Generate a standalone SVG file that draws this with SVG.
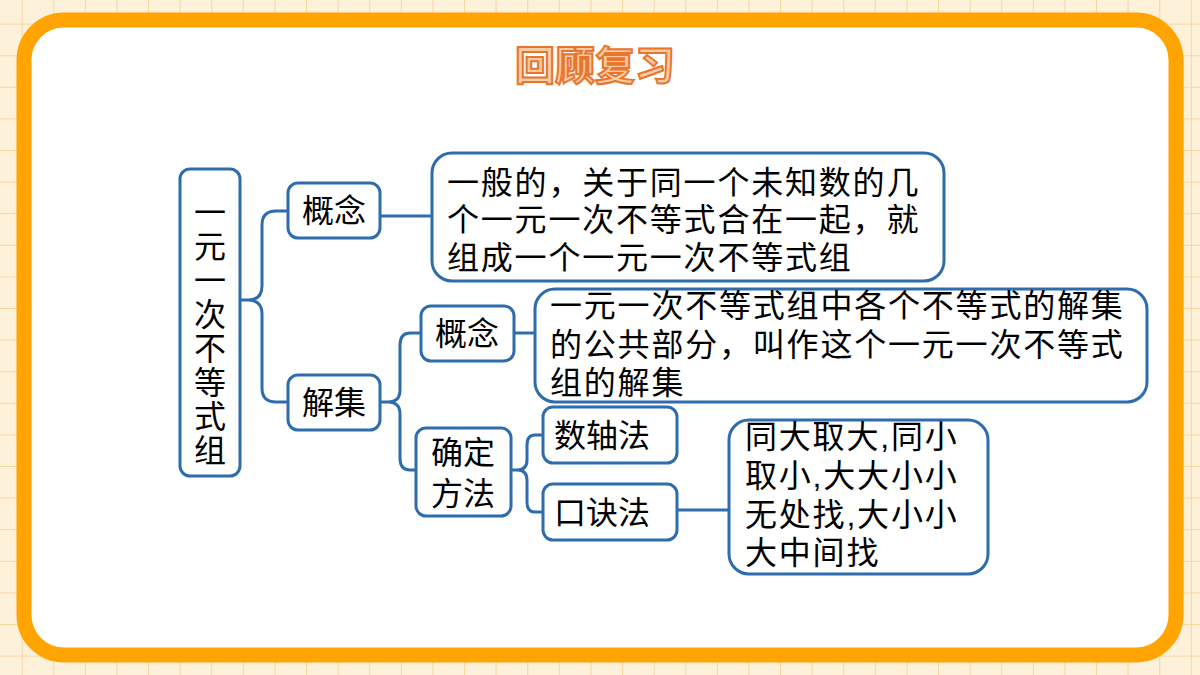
<svg xmlns="http://www.w3.org/2000/svg" width="1200" height="675" viewBox="0 0 1200 675">
<defs>
<pattern id="g" width="31.6" height="31.6" patternUnits="userSpaceOnUse" x="-10" y="-8">
<rect width="31.6" height="31.6" fill="#fdf1da"/>
<path d="M0 0H31.6M0 0V31.6" stroke="#f8d79c" stroke-width="2" fill="none"/>
</pattern>
<style>
.b{fill:#fff;stroke:#2e6cae;stroke-width:3}
.c{fill:none;stroke:#2e6cae;stroke-width:3}
.t{font-family:"Liberation Sans","Noto Sans CJK SC",sans-serif;font-size:32px;fill:#000}
.l{letter-spacing:1.8px}
</style>
</defs>
<rect width="1200" height="675" fill="url(#g)"/>
<rect x="24" y="20" width="1152" height="635" rx="40" fill="#fff" stroke="#ffa400" stroke-width="15"/>
<text x="595" y="80" text-anchor="middle" font-family="Noto Sans CJK SC,sans-serif" font-weight="bold" font-size="40" fill="#f9cba6" stroke="#e8762d" stroke-width="2">回顾复习</text>
<g id="connectors">
<path class="c" d="M233 300H248Q262 300 262 286V225Q262 211 276 211H288M248 300Q262 300 262 314V388Q262 402 276 402H288"/>
<path class="c" d="M380 216H432"/>
<path class="c" d="M380 402H388Q400 402 400 390V345Q400 333 410 333H421M388 402Q400 402 400 414V458Q400 470 410 470H416"/>
<path class="c" d="M514 333H535"/>
<path class="c" d="M511 470H517Q527 470 527 460V445Q527 435 535 435H543M517 470Q527 470 527 480V502Q527 512 535 512H543"/>
<path class="c" d="M677 510H729"/>
</g>
<g id="root"><rect class="b" x="180" y="169" width="60" height="307" rx="10"/>
<text class="t" text-anchor="middle"><tspan x="210" y="224">一</tspan><tspan x="210" y="258">元</tspan><tspan x="210" y="292">一</tspan><tspan x="210" y="326">次</tspan><tspan x="210" y="360">不</tspan><tspan x="210" y="394">等</tspan><tspan x="210" y="428">式</tspan><tspan x="210" y="462">组</tspan></text></g>
<g id="gn1"><rect class="b" x="288" y="183" width="92" height="55" rx="10"/><text class="t" x="334" y="222" text-anchor="middle">概念</text></g>
<g id="jj"><rect class="b" x="288" y="375" width="92" height="55" rx="10"/><text class="t" x="334" y="414" text-anchor="middle">解集</text></g>
<g id="box1"><rect class="b" x="432" y="153" width="512" height="128" rx="20"/>
<text class="t l"><tspan x="447" y="194">一般的，关于同一个未知数的几</tspan><tspan x="447" y="231">个一元一次不等式合在一起，就</tspan><tspan x="447" y="269">组成一个一元一次不等式组</tspan></text></g>
<g id="gn2"><rect class="b" x="421" y="306" width="93" height="55" rx="10"/><text class="t" x="467" y="345" text-anchor="middle">概念</text></g>
<g id="qdff"><rect class="b" x="416" y="428" width="95" height="88" rx="10"/><text class="t" text-anchor="middle"><tspan x="463" y="464">确定</tspan><tspan x="463" y="505">方法</tspan></text></g>
<g id="box2"><rect class="b" x="535" y="289" width="612" height="113" rx="20"/>
<text class="t l"><tspan x="550" y="317">一元一次不等式组中各个不等式的解集</tspan><tspan x="550" y="356">的公共部分，叫作这个一元一次不等式</tspan><tspan x="550" y="394">组的解集</tspan></text></g>
<g id="szf"><rect class="b" x="543" y="407" width="134" height="56" rx="10"/><text class="t" x="554" y="447">数轴法</text></g>
<g id="kjf"><rect class="b" x="543" y="484" width="134" height="56" rx="10"/><text class="t" x="554" y="524">口诀法</text></g>
<g id="box3"><rect class="b" x="729" y="420" width="259" height="154" rx="20"/>
<text class="t l"><tspan x="745" y="448">同大取大,同小</tspan><tspan x="745" y="487">取小,大大小小</tspan><tspan x="745" y="526">无处找,大小小</tspan><tspan x="745" y="564">大中间找</tspan></text></g>
</svg>
